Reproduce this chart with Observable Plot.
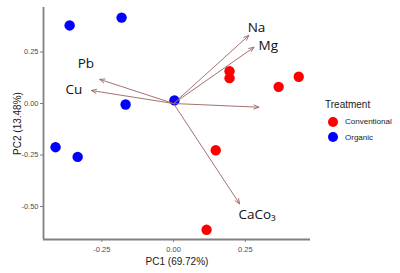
<!DOCTYPE html>
<html>
<head>
<meta charset="utf-8">
<script src="https://cdn.jsdelivr.net/npm/d3@7"></script>
<script src="https://cdn.jsdelivr.net/npm/@observablehq/plot@0.6"></script>
<style>
  body { margin: 0; background: #fff; }
  #wrap { position: relative; width: 400px; height: 273px; }
  #legend { position: absolute; left: 325px; top: 99px; font-family: "Liberation Sans", Arial, sans-serif; color: #1a1a1a; }
  #legend .title { font-size: 10px; margin-bottom: 4px; }
  #legend .item { display: flex; align-items: center; height: 15.5px; font-size: 8px; }
  #legend .dot { width: 10px; height: 10px; border-radius: 50%; margin-left: 3px; margin-right: 7px; }
</style>
</head>
<body>
<div id="wrap"></div>
<script>
// Scores
const pc1 = [-0.362, -0.181, -0.167, 0.003, -0.411, -0.334, 0.195, 0.195, 0.366, 0.436, 0.147, 0.115];
const pc2 = [0.379, 0.417, -0.005, 0.015, -0.212, -0.259, 0.157, 0.123, 0.081, 0.130, -0.227, -0.613];
const treatment = ["Organic","Organic","Organic","Organic","Organic","Organic",
                   "Conventional","Conventional","Conventional","Conventional","Conventional","Conventional"];
// Loadings (arrows)
const loadX = [0.262, 0.280, 0.297, 0.230, -0.257, -0.286];
const loadY = [0.330, 0.273, -0.018, -0.487, 0.117, 0.063];
// Loading labels
const labels = ["Na", "Mg", "CaCo₃", "Pb", "Cu"];
const labelX = [0.258, 0.296, 0.226, -0.334, -0.376];
const labelY = [0.369, 0.282, -0.539, 0.194, 0.068];
// Axes
const xDomain = [-0.453, 0.477];
const yDomain = [-0.66, 0.466];
const ticks = [-0.5, -0.25, 0, 0.25];
const xTicks = [-0.25, 0, 0.25];
const groups = ["Conventional", "Organic"];
const groupColors = ["#ff0000", "#0000ff"];

const scores = pc1.map((x, i) => ({x, y: pc2[i], t: treatment[i]}));
const loads = loadX.map((x, i) => ({x, y: loadY[i]}));
const labs = labels.map((l, i) => ({l, x: labelX[i], y: labelY[i]}));

const chart = Plot.plot({
  width: 400,
  height: 273,
  marginLeft: 43,
  marginRight: 90,
  marginTop: 7,
  marginBottom: 34,
  style: { fontFamily: "Liberation Sans, Arial, sans-serif", background: "#fff" },
  x: { domain: xDomain },
  y: { domain: yDomain },
  color: { domain: groups, range: groupColors },
  marks: [
    Plot.dot(scores, { x: "x", y: "y", fill: "t", r: 5.2 }),
    Plot.arrow(loads, { x1: 0, y1: 0, x2: "x", y2: "y", stroke: "#9c6262", strokeWidth: 1, strokeOpacity: 0.9, headLength: 8, headAngle: 45 }),
    Plot.text(labs, { x: "x", y: "y", text: "l", textAnchor: "start", fontSize: 13.5, fontFamily: "Open Sans, sans-serif", fill: "#111" }),
    Plot.ruleX([xDomain[0]], { stroke: "#808080", strokeWidth: 1.8 }),
    Plot.ruleY([yDomain[0]], { stroke: "#808080", strokeWidth: 1.8 }),
    Plot.axisX(xTicks, { tickSize: 3, tickPadding: 4, stroke: "#808080", fill: "#4d4d4d", fontSize: 7.5, tickFormat: d => d.toFixed(2), label: null }),
    Plot.axisY(ticks, { tickSize: 3, tickPadding: 2, stroke: "#808080", fill: "#4d4d4d", fontSize: 7.5, tickFormat: d => d.toFixed(2), label: null }),
    Plot.axisX({ ticks: [], label: "PC1 (69.72%)", labelAnchor: "center", labelArrow: "none", labelOffset: 25, fontSize: 10, fill: "#1a1a1a" }),
    Plot.axisY({ ticks: [], label: "PC2 (13.48%)", labelAnchor: "center", labelArrow: "none", labelOffset: 30, fontSize: 10, fill: "#1a1a1a" })
  ]
});
const wrap = document.getElementById("wrap");
wrap.appendChild(chart);

const legend = document.createElement("div");
legend.id = "legend";
legend.innerHTML = `<div class="title">Treatment</div>` +
  groups.map((g, i) => `<div class="item"><span class="dot" style="background:${groupColors[i]}"></span>${g}</div>`).join("");
wrap.appendChild(legend);
</script>
</body>
</html>
